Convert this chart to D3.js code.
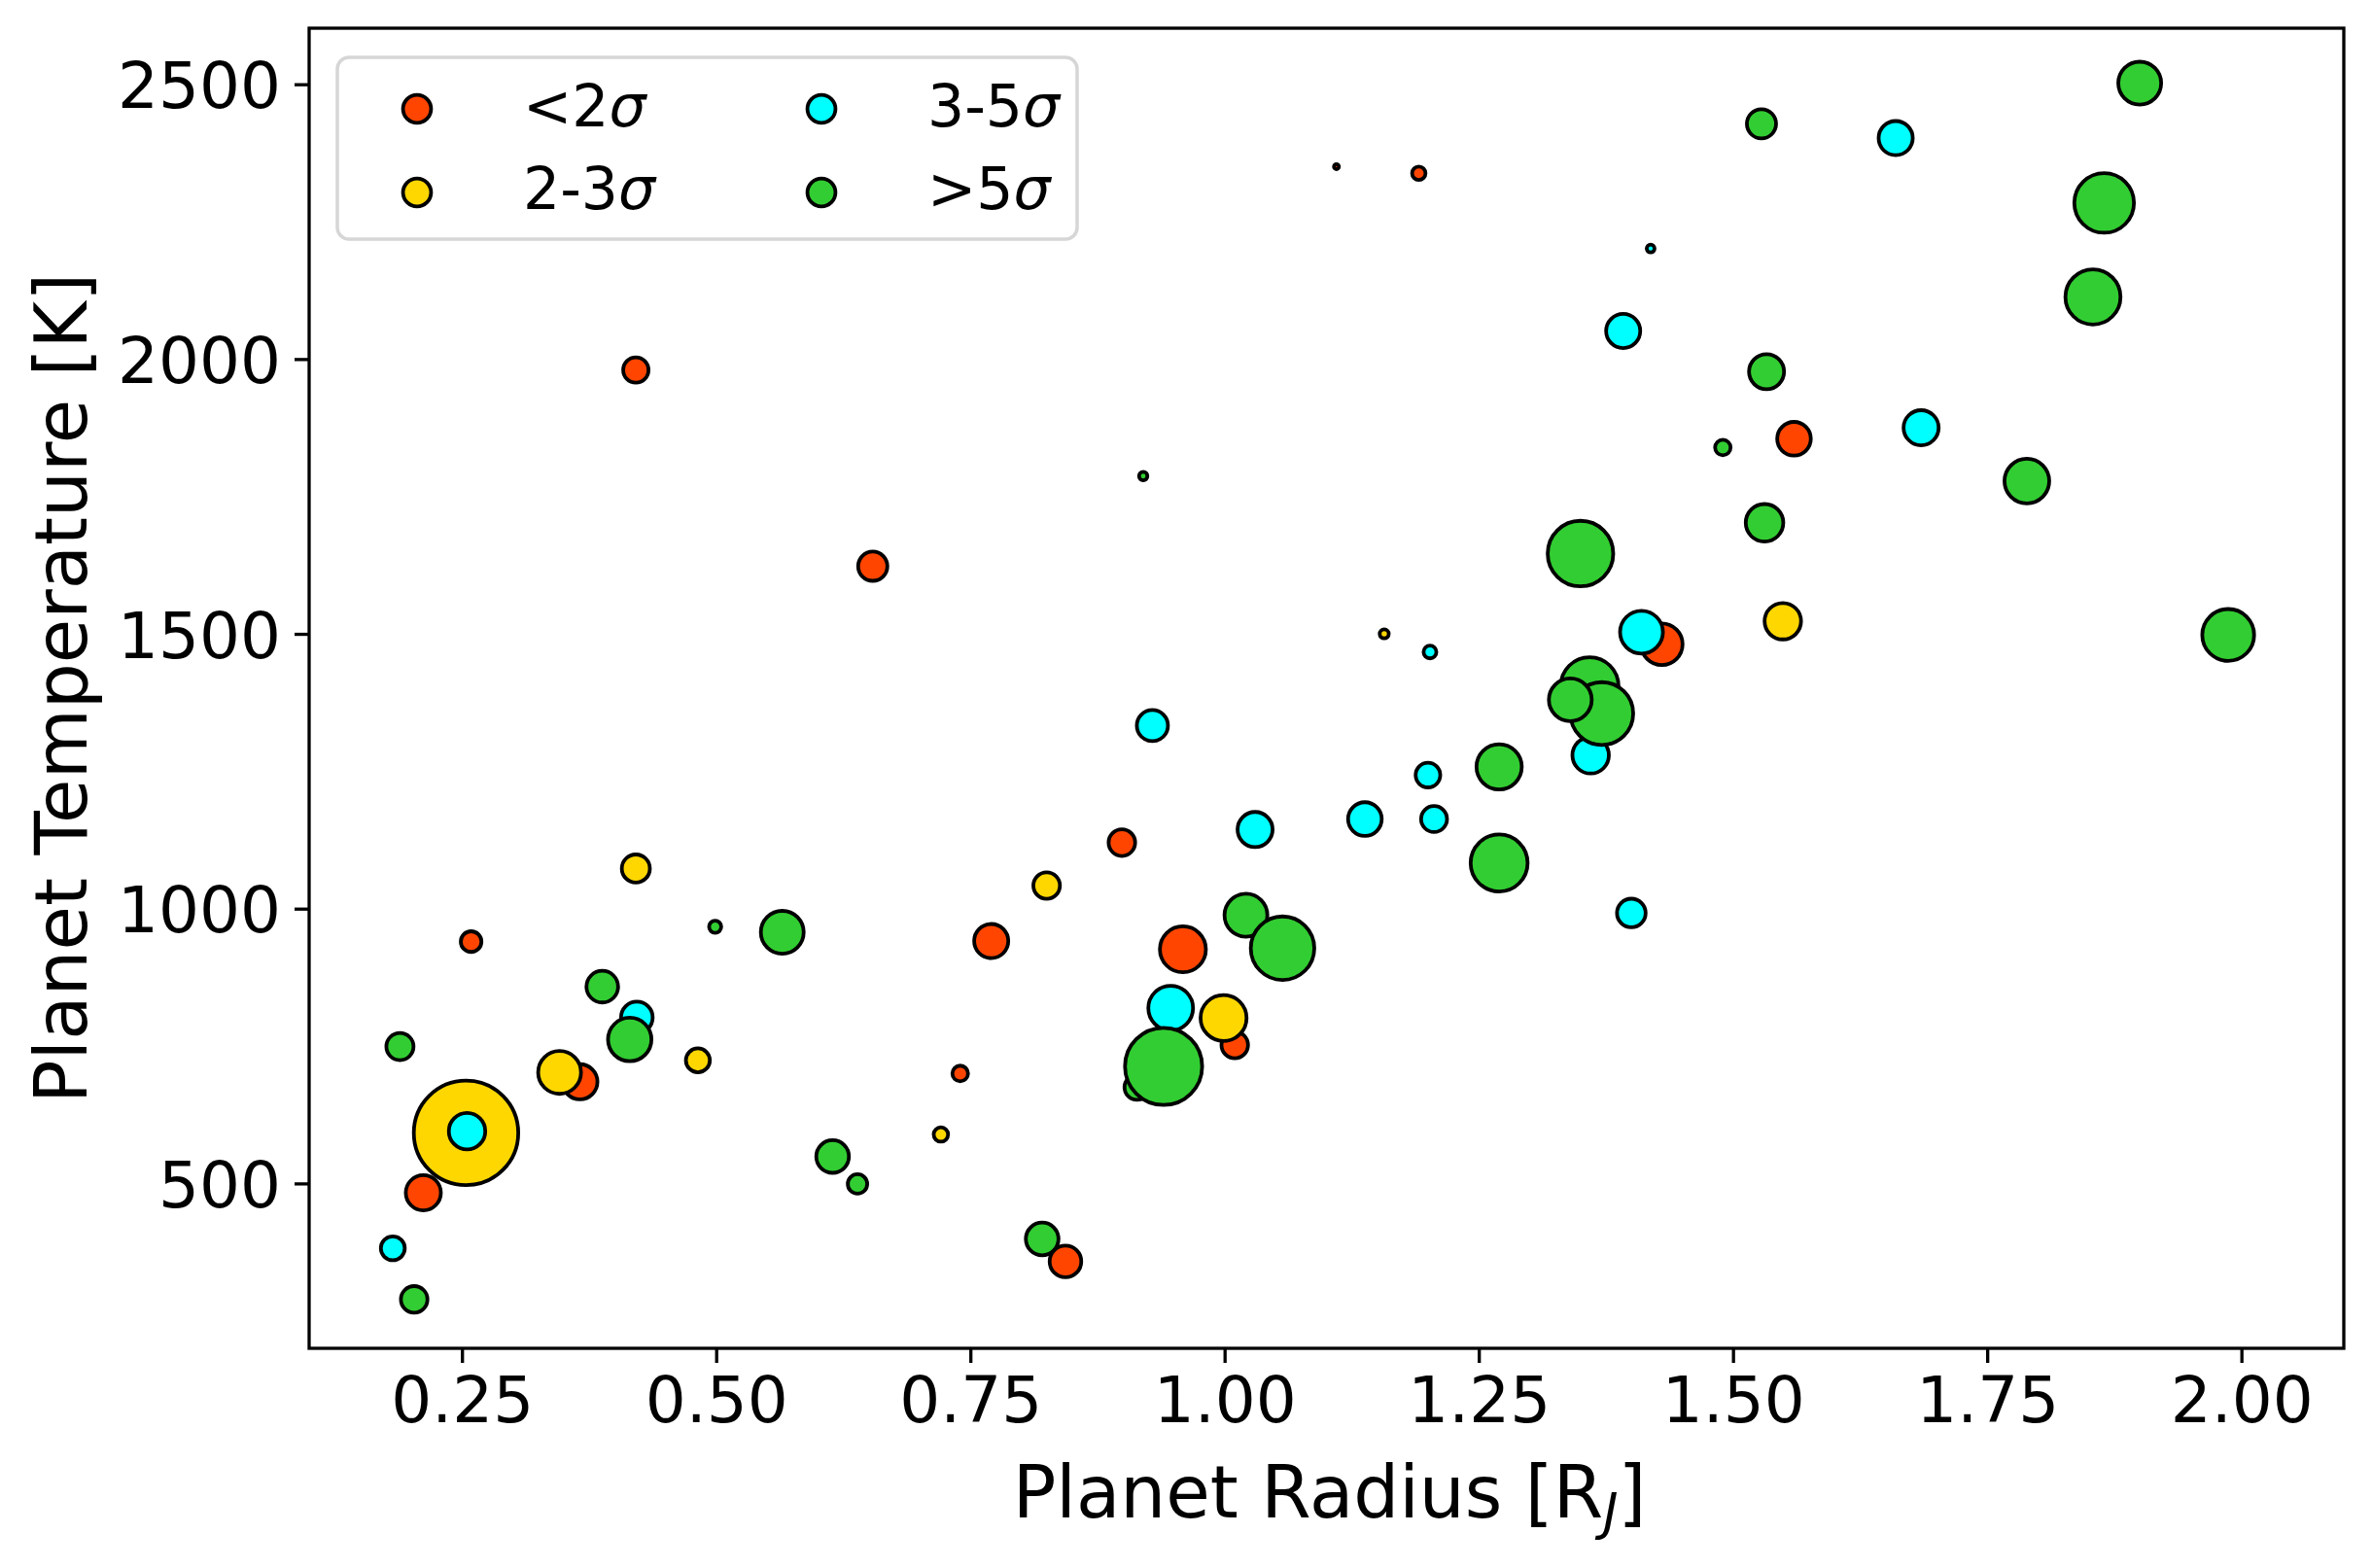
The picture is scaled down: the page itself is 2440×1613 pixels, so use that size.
<!DOCTYPE html>
<html>
<head>
<meta charset="utf-8">
<script src="https://cdn.jsdelivr.net/npm/d3@7"></script>
<style>
  body { margin: 0; background: #ffffff; }
  text { font-family: "DejaVu Sans", sans-serif; fill: #000; }
</style>
</head>
<body>
<svg id="chart" width="2440" height="1613"></svg>
<script>
// ---------------- DATA ----------------
const categories = ["<2", "2-3", "3-5", ">5"];
const categoryColors = ["#FF4500", "#FFD700", "#00FFFF", "#32CD32"];

// <2 sigma (red)
const redRadius = [0.421, 0.654, 0.259, 0.366, 0.212, 0.740, 0.7705, 0.899, 0.959, 1.010, 1.191, 1.110, 1.560, 1.430];
const redTemp   = [1980, 1623, 940, 685, 483, 700, 941, 1120, 926, 752, 2338, 2350, 1855, 1481];
const redSize   = [39, 52, 26, 75, 75, 15, 71, 43, 129, 43, 11, 1.5, 69, 105];

// 2-3 sigma (yellow)
const yellowRadius = [0.254, 0.346, 0.421, 0.482, 0.721, 0.825, 0.999, 1.157, 1.549];
const yellowTemp   = [592, 702, 1073, 724, 589, 1042, 801, 1500, 1523];
const yellowSize   = [665, 112, 48, 35, 12.6, 43, 129, 5, 81];

// 3-5 sigma (cyan)
const cyanRadius = [0.255, 0.182, 0.422, 0.929, 0.947, 1.030, 1.138, 1.200, 1.206, 1.202, 1.360, 1.410, 1.400, 1.392, 1.419, 1.660, 1.685];
const cyanTemp   = [595, 382, 802, 1333, 819, 1144, 1163, 1243, 1163, 1467, 1279, 1503, 992, 2051, 2201, 2402, 1875];
const cyanSize   = [81, 35, 61, 59, 122, 75, 69, 37, 41, 10, 81, 112, 50, 71, 3.7, 71, 75];

// >5 sigma (green)
const greenRadius = [0.189, 0.203, 0.388, 0.415, 0.499, 0.565, 0.6145, 0.639, 0.8206, 0.920, 0.914, 0.940, 1.021, 1.057, 1.270, 1.270, 1.350, 1.359, 1.371, 1.340, 1.490, 1.531, 1.533, 1.528, 1.789, 1.854, 1.865, 1.900, 1.987];
const greenTemp   = [749, 289, 858, 762, 967, 957, 549, 499, 399, 1787, 675, 713, 988, 928, 1258, 1083, 1646, 1405, 1355, 1380, 1839, 1702, 1977, 2428, 1778, 2113, 2284, 2502, 1498];
const greenSize   = [45, 43, 61, 115, 9, 112, 65, 23, 65, 4.3, 39, 363, 112, 246, 125, 198, 262, 203, 240, 112, 14.7, 86, 75, 52, 122, 185, 217, 112, 164];

// late-drawn red point (drawn over its green neighbour)
const redLateRadius = [0.8435];
const redLateTemp   = [358];
const redLateSize   = [61];

const xTicks = [0.25, 0.50, 0.75, 1.00, 1.25, 1.50, 1.75, 2.00];
const yTicks = [500, 1000, 1500, 2000, 2500];
const xLabel = "Planet Radius [R";
const yLabel = "Planet Temperature [K]";
const legendSize = 48;

// ---------------- BUILD ----------------
const groups = [
  {cat: 0, r: redRadius, t: redTemp, s: redSize},
  {cat: 1, r: yellowRadius, t: yellowTemp, s: yellowSize},
  {cat: 2, r: cyanRadius, t: cyanTemp, s: cyanSize},
  {cat: 3, r: greenRadius, t: greenTemp, s: greenSize},
  {cat: 0, r: redLateRadius, t: redLateTemp, s: redLateSize}
];
const points = [];
groups.forEach(g => g.r.forEach((v, i) => points.push({x: v, y: g.t[i], s: g.s[i], cat: g.cat})));

const svg = d3.select("#chart");
const plot = {left: 318, right: 2411, top: 29, bottom: 1387};

const x = d3.scaleLinear().domain([0.0997, 2.1007]).range([plot.left, plot.right]);
const y = d3.scaleLinear().domain([200, 2602]).range([plot.bottom, plot.top]);
const rScale = d3.scaleSqrt().domain([0, 700]).range([0, 2.083 * Math.sqrt(700)]);

const strokeW = 3.8;

// clip
svg.append("defs").append("clipPath").attr("id", "clip")
  .append("rect").attr("x", plot.left).attr("y", plot.top)
  .attr("width", plot.right - plot.left).attr("height", plot.bottom - plot.top);

// points
svg.append("g").attr("clip-path", "url(#clip)")
  .selectAll("circle").data(points).join("circle")
  .attr("cx", d => x(d.x))
  .attr("cy", d => y(d.y))
  .attr("r", d => rScale(d.s))
  .attr("fill", d => categoryColors[d.cat])
  .attr("stroke", "#000")
  .attr("stroke-width", strokeW);

// axes
const tickFont = 66;
const xAxis = d3.axisBottom(x).tickValues(xTicks).tickFormat(d3.format(".2f"))
  .tickSize(15).tickSizeOuter(0).tickPadding(14);
const gx = svg.append("g").attr("transform", `translate(0,${plot.bottom})`).call(xAxis);
gx.select(".domain").remove();
gx.selectAll(".tick line").attr("stroke", "#000").attr("stroke-width", 3.3);
gx.selectAll(".tick text").attr("font-size", tickFont).attr("font-family", "DejaVu Sans")
  .attr("dy", null).attr("y", 15 + 13 + 0.729 * tickFont);

const yAxis = d3.axisLeft(y).tickValues(yTicks).tickFormat(d3.format("d"))
  .tickSize(15).tickSizeOuter(0).tickPadding(14);
const gy = svg.append("g").attr("transform", `translate(${plot.left},0)`).call(yAxis);
gy.select(".domain").remove();
gy.selectAll(".tick line").attr("stroke", "#000").attr("stroke-width", 3.3);
gy.selectAll(".tick text").attr("font-size", tickFont).attr("font-family", "DejaVu Sans")
  .attr("dy", null).attr("y", 0.729 * tickFont / 2);

// frame (spines)
svg.append("rect").attr("x", plot.left).attr("y", plot.top)
  .attr("width", plot.right - plot.left).attr("height", plot.bottom - plot.top)
  .attr("fill", "none").attr("stroke", "#000").attr("stroke-width", 3.3);

// axis labels
const labelFont = 74;
const xl = svg.append("text").attr("x", (plot.left + plot.right) / 2 + 3).attr("y", 1561)
  .attr("text-anchor", "middle").attr("font-size", labelFont);
xl.append("tspan").text(xLabel);
xl.append("tspan").attr("font-size", labelFont * 0.7).attr("font-style", "italic").attr("dy", 12).text("J");
xl.append("tspan").attr("dy", -12).text("]");

svg.append("text")
  .attr("transform", `translate(89,${(plot.top + plot.bottom) / 2}) rotate(-90)`)
  .attr("text-anchor", "middle").attr("font-size", labelFont).text(yLabel);

// legend
const lg = svg.append("g");
lg.append("rect").attr("x", 347).attr("y", 59).attr("width", 761).attr("height", 187)
  .attr("rx", 12).attr("fill", "#fff").attr("fill-opacity", 0.8)
  .attr("stroke", "#d6d6d6").attr("stroke-width", 3.5);
const legendPos = [
  {mx: 429, my: 112, tx: 538, ty: 130},
  {mx: 429, my: 198, tx: 538, ty: 215},
  {mx: 845, my: 112, tx: 954, ty: 130},
  {mx: 845, my: 198, tx: 954, ty: 215}
];
categories.forEach((c, i) => {
  const p = legendPos[i];
  lg.append("circle").attr("cx", p.mx).attr("cy", p.my).attr("r", rScale(legendSize))
    .attr("fill", categoryColors[i]).attr("stroke", "#000").attr("stroke-width", strokeW);
  const t = lg.append("text").attr("x", p.tx).attr("y", p.ty).attr("font-size", 60);
  t.append("tspan").text(c);
  t.append("tspan").attr("font-style", "italic").text("σ");
});
</script>
</body>
</html>
